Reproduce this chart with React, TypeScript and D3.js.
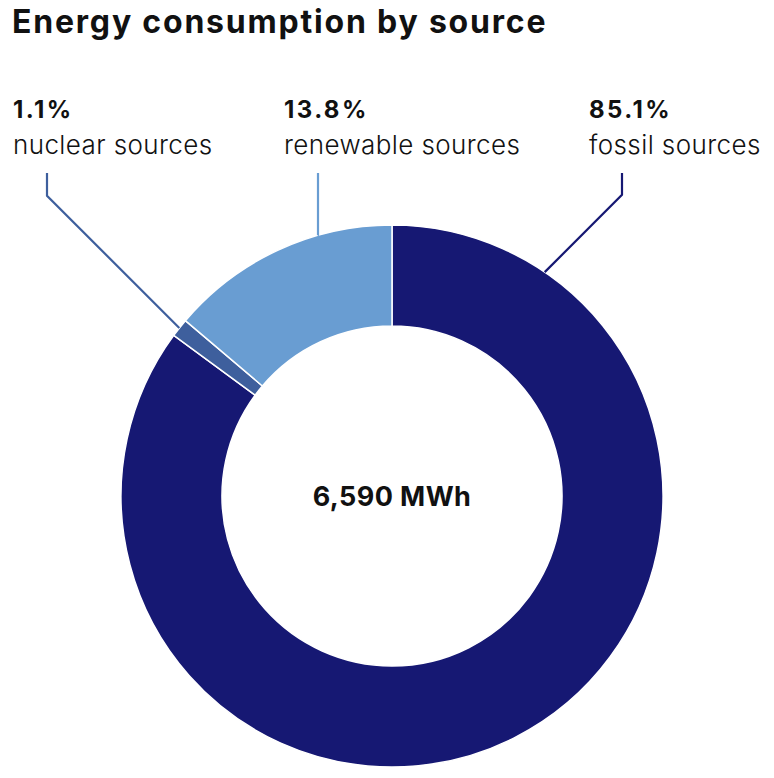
import * as d3 from 'd3';

const WIDTH = 774;
const HEIGHT = 778;

// slice order, clockwise from 12 o'clock
const sources = ['fossil', 'nuclear', 'renewable'];
const shares = [85.1, 1.1, 13.8];
const sourceLabels = ['fossil sources', 'nuclear sources', 'renewable sources'];
const sourceColors = ['#161873', '#3e5f9d', '#699dd2'];
// where each leader line meets the ring (degrees clockwise from top)
const leaderAngles = [34.3, 308.3, 344.1];
const labelX = [589, 13, 284];
const leaderX = [622, 47, 318];

const totalLabel = '6,590 MWh';
const title = 'Energy consumption by source';

const FONT = 'Inter, "Noto Sans", sans-serif';

export default function App() {
  const cx = 392;
  const cy = 496;
  const outerR = 271;
  const innerR = 170;
  const leaderTop = 173;

  const pie = d3.pie<number>().sort(null).value((d) => d);
  const arcs = pie(shares);
  const arc = d3.arc<d3.PieArcDatum<number>>().innerRadius(innerR).outerRadius(outerR);

  return (
    <svg
      width={WIDTH}
      height={HEIGHT}
      viewBox={`0 0 ${WIDTH} ${HEIGHT}`}
      style={{ position: 'absolute', left: 0, top: 0, background: '#fff' }}
      fontFamily={FONT}
    >
      <text x={12} y={33} fontSize={32} fontWeight={650} letterSpacing={1.8} fill="#111">
        {title}
      </text>

      <g transform={`translate(${cx},${cy})`}>
        {arcs.map((a, i) => (
          <path
            key={sources[i]}
            d={arc(a) ?? ''}
            fill={sourceColors[i]}
            stroke="#fff"
            strokeWidth={1.5}
          />
        ))}
        <text
          x={0}
          y={0}
          textAnchor="middle"
          dominantBaseline="central"
          fontSize={27}
          fontWeight={700}
          letterSpacing={0.4}
          fill="#111"
        >
          {totalLabel}
        </text>
      </g>

      {sources.map((s, i) => {
        const rad = (leaderAngles[i] * Math.PI) / 180;
        const ax = cx + outerR * Math.sin(rad);
        const ay = cy - outerR * Math.cos(rad);
        const lx = leaderX[i];
        const ey = ay - Math.abs(ax - lx);
        const pts: [number, number][] = [
          [lx, leaderTop],
          [lx, ey],
          [ax, ay],
        ];
        return (
          <g key={s}>
            <path
              d={d3.line()(pts) ?? ''}
              fill="none"
              stroke={sourceColors[i]}
              strokeWidth={2.2}
            />
            <text x={labelX[i]} y={118} fontSize={24} fontWeight={700} letterSpacing={2.4} fill="#111">
              {`${shares[i].toFixed(1)}%`}
            </text>
            <text x={labelX[i]} y={154} fontSize={26} fontWeight={300} letterSpacing={0.4} fill="#111">
              {sourceLabels[i]}
            </text>
          </g>
        );
      })}
    </svg>
  );
}
